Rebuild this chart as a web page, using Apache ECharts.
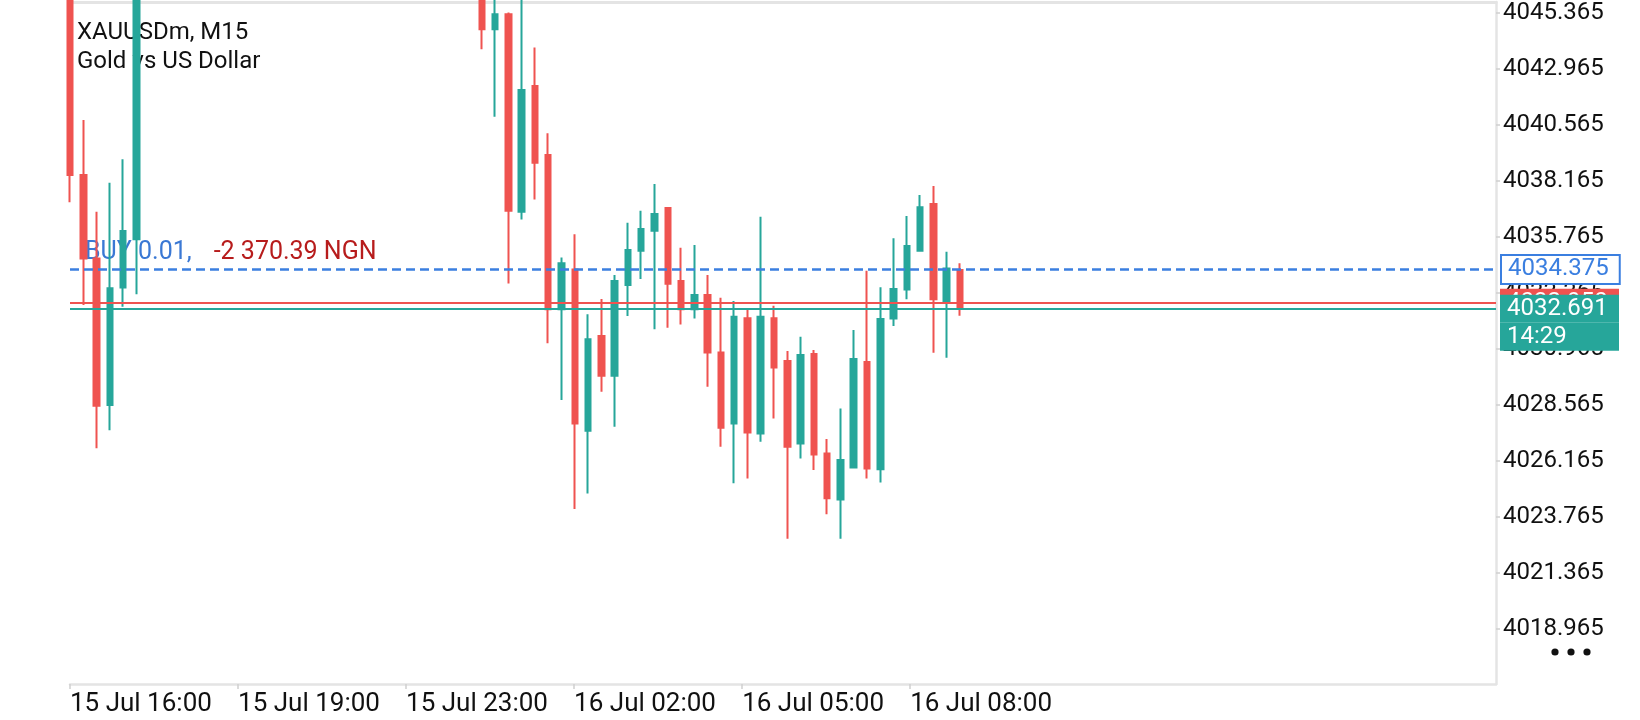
<!DOCTYPE html>
<html><head><meta charset="utf-8">
<script src="https://cdn.jsdelivr.net/npm/echarts@6/dist/echarts.min.js"></script>
<style>html,body{margin:0;padding:0;background:#fff}#chart{width:1640px;height:720px}</style>
</head><body><div id="chart"></div>
<script>
// ---- data ----
const barTimes = [
  '15 Jul 16:00','15 Jul 16:15','15 Jul 16:30','15 Jul 16:45','15 Jul 17:00','15 Jul 17:15','15 Jul 17:30','15 Jul 17:45',
  '15 Jul 18:00','15 Jul 18:15','15 Jul 18:30','15 Jul 18:45','15 Jul 19:00','15 Jul 19:15','15 Jul 19:30','15 Jul 19:45',
  '15 Jul 20:00','15 Jul 20:15','15 Jul 20:30','15 Jul 20:45','15 Jul 21:00','15 Jul 21:15','15 Jul 21:30','15 Jul 21:45',
  '15 Jul 23:00','15 Jul 23:15','15 Jul 23:30','15 Jul 23:45',
  '16 Jul 00:00','16 Jul 00:15','16 Jul 00:30','16 Jul 00:45','16 Jul 01:00','16 Jul 01:15','16 Jul 01:30','16 Jul 01:45',
  '16 Jul 02:00','16 Jul 02:15','16 Jul 02:30','16 Jul 02:45','16 Jul 03:00','16 Jul 03:15','16 Jul 03:30','16 Jul 03:45',
  '16 Jul 04:00','16 Jul 04:15','16 Jul 04:30','16 Jul 04:45','16 Jul 05:00','16 Jul 05:15','16 Jul 05:30','16 Jul 05:45',
  '16 Jul 06:00','16 Jul 06:15','16 Jul 06:30','16 Jul 06:45','16 Jul 07:00','16 Jul 07:15','16 Jul 07:30','16 Jul 07:45',
  '16 Jul 08:00','16 Jul 08:15','16 Jul 08:30','16 Jul 08:45','16 Jul 09:00','16 Jul 09:15','16 Jul 09:30','16 Jul 09:45'
];
const opens = [
  4047.20,4038.42,4034.85,4028.57,4033.60,4035.67,4047.90,4049.20,4048.50,4050.60,4052.30,4051.40,4053.80,4055.10,4054.00,4052.60,
  4053.90,4056.20,4055.00,4053.10,4051.70,4052.80,4050.90,4049.60,4050.40,4049.10,4048.20,4049.00,4047.80,4048.60,4047.40,4046.90,
  4044.67,4045.32,4036.85,4042.24,4039.28,4032.67,4034.38,4027.46,4031.52,4029.82,4033.71,4035.18,4036.04,4037.01,4033.88,4032.67,
  4033.28,4030.82,4027.78,4032.29,4027.35,4032.29,4030.45,4026.92,4030.75,4026.49,4024.52,4025.89,4030.41,4025.81,4032.28,4033.52,
  4035.18,4037.18,4032.99,4034.35
];
const closes = [
  4038.42,4034.85,4028.54,4033.57,4036.02,4047.90,4049.20,4048.50,4050.60,4052.30,4051.40,4053.80,4055.10,4054.00,4052.60,4053.90,
  4056.20,4055.00,4053.10,4051.70,4052.80,4050.90,4049.60,4050.40,4049.10,4048.20,4049.00,4047.80,4048.60,4047.40,4046.90,4044.67,
  4045.32,4036.89,4042.07,4038.95,4032.67,4034.64,4027.78,4031.39,4029.82,4033.88,4035.21,4036.11,4036.75,4033.76,4032.67,4033.28,
  4030.82,4027.59,4032.35,4027.39,4032.35,4030.18,4026.78,4030.71,4026.45,4024.57,4026.21,4030.54,4025.85,4032.25,4033.54,4035.38,
  4037.04,4033.10,4034.42,4032.69
];
const lows = [
  4037.26,4032.85,4026.71,4027.49,4032.78,4033.31,4047.10,4047.80,4048.10,4050.00,4050.80,4051.00,4053.20,4053.30,4051.90,4052.00,
  4053.50,4054.10,4052.40,4050.90,4051.20,4050.20,4048.80,4049.00,4048.30,4047.50,4047.60,4047.10,4047.00,4046.60,4046.30,4043.81,
  4040.92,4033.78,4036.52,4037.38,4031.21,4028.78,4024.11,4024.78,4029.14,4027.64,4032.38,4033.97,4031.81,4031.88,4032.02,4032.28,
  4029.35,4026.78,4025.21,4025.42,4026.99,4027.99,4022.83,4026.28,4025.78,4023.88,4022.83,4025.85,4025.42,4025.25,4031.95,4033.10,
  4035.15,4030.81,4030.59,4032.39
];
const highs = [
  4047.80,4040.78,4036.85,4038.09,4039.10,4048.60,4050.00,4050.40,4051.20,4053.00,4053.40,4054.50,4056.00,4055.90,4054.60,4054.80,
  4057.00,4056.90,4055.60,4053.80,4053.50,4053.20,4051.50,4051.10,4050.90,4049.80,4049.70,4049.50,4049.20,4049.00,4048.10,4047.20,
  4046.50,4045.39,4046.30,4043.89,4040.21,4034.89,4035.89,4032.46,4033.11,4034.14,4036.38,4036.89,4038.04,4037.05,4035.31,4035.42,
  4034.14,4033.16,4033.02,4032.73,4036.64,4032.82,4030.88,4031.49,4030.92,4027.11,4028.42,4031.78,4034.32,4033.61,4035.71,4036.67,
  4037.57,4037.95,4035.14,4034.64
];
const yTickValues = [4018.965,4021.365,4023.765,4026.165,4028.565,4030.965,4033.365,4035.765,4038.165,4040.565,4042.965,4045.365];
const xTickLabels = ['15 Jul 16:00','15 Jul 19:00','15 Jul 23:00','16 Jul 02:00','16 Jul 05:00','16 Jul 08:00'];
const titleLines = ['XAUUSDm, M15', 'Gold vs US Dollar'];
const buyPrice = 4034.375;
const askPrice = 4032.950;
const bidPrice = 4032.691;
const countdown = '14:29';
const orderText = 'BUY 0.01,';
const profitText = '-2 370.39 NGN';

// ---- styling / layout ----
const UP = '#26A69A', DOWN = '#EF5350', BLUE = '#3B7FE0', FRAME = '#E4E4E4', FONT = 'Roboto';
const labelStep = 12.65; // bars between time labels
const xTickPos = xTickLabels.map((_, k) => +(k * labelStep).toFixed(2));

const candleData = opens.map((o, i) => [i, o, closes[i], lows[i], highs[i]]);

const chart = echarts.init(document.getElementById('chart'), null, {renderer: 'canvas'});
const option = {
  animation: false,
  backgroundColor: '#fff',
  grid: {left: 70, right: 144, top: 2, bottom: 36, containLabel: false},
  xAxis: [{
    type: 'value', min: 0, max: 107.35, position: 'bottom',
    splitLine: {show: false},
    axisLine: {show: true, onZero: false, lineStyle: {color: FRAME, width: 2.5}},
    axisTick: {show: true, length: 5, lineStyle: {color: '#D0D0D0', width: 1.5}, customValues: xTickPos},
    axisLabel: {
      customValues: xTickPos, align: 'left', margin: 7,
      color: '#111', fontFamily: FONT, fontSize: 26,
      formatter: v => xTickLabels[Math.round(v / labelStep)] || ''
    }
  }, {
    type: 'value', min: 0, max: 107.35, position: 'top',
    splitLine: {show: false},
    axisLine: {show: true, onZero: false, lineStyle: {color: FRAME, width: 3}},
    axisTick: {show: false}, axisLabel: {show: false}
  }],
  yAxis: {
    type: 'value', position: 'right', min: 4016.61, max: 4045.84, scale: true,
    splitLine: {show: false},
    axisLine: {show: true, onZero: false, lineStyle: {color: FRAME, width: 2.5}},
    axisTick: {show: true, length: 4, lineStyle: {color: '#D0D0D0', width: 1.5}, customValues: yTickValues},
    axisLabel: {
      customValues: yTickValues, margin: 7,
      color: '#111', fontFamily: FONT, fontSize: 24,
      formatter: v => v.toFixed(3)
    }
  },
  series: [{
    type: 'candlestick',
    xAxisIndex: 0, yAxisIndex: 0,
    data: candleData,
    encode: {x: 0, y: [1, 2, 3, 4]},
    barWidth: 6,
    clip: true,
    itemStyle: {color: UP, color0: DOWN, borderColor: UP, borderColor0: DOWN, borderWidth: 2},
    markLine: {
      silent: true,
      symbol: ['none', 'none'],
      animation: false,
      data: [
        {
          yAxis: buyPrice,
          lineStyle: {color: BLUE, type: [9, 5], width: 2.5},
          label: {
            show: true, position: 'end', distance: 6,
            formatter: buyPrice.toFixed(3),
            color: BLUE, fontFamily: FONT, fontSize: 24, lineHeight: 25,
            backgroundColor: '#fff', borderColor: BLUE, borderWidth: 2,
            padding: [1, 10, 1, 6]
          }
        },
        {
          yAxis: askPrice,
          lineStyle: {color: DOWN, type: 'solid', width: 2},
          label: {
            show: true, position: 'end', distance: 4,
            formatter: askPrice.toFixed(3),
            color: '#fff', fontFamily: FONT, fontSize: 24, lineHeight: 28,
            backgroundColor: DOWN, width: 106, padding: [0, 6, 0, 7]
          }
        },
        {
          yAxis: bidPrice,
          lineStyle: {color: UP, type: 'solid', width: 2},
          label: {
            show: true, position: 'end', distance: 4,
            formatter: '{s| }\n{a|' + bidPrice.toFixed(3) + '}\n{a|' + countdown + '}',
            rich: {
              s: {lineHeight: 28, height: 28, fontSize: 10},
              a: {color: '#fff', fontFamily: FONT, fontSize: 24, lineHeight: 28, height: 28,
                  backgroundColor: UP, width: 106, padding: [0, 6, 0, 7]}
            }
          }
        }
      ]
    }
  }]
};
chart.setOption(option);

const yBuy = chart.convertToPixel({yAxisIndex: 0}, buyPrice);
chart.setOption({
  graphic: [
    {type: 'text', z: 0, x: 77, y: 33, style: {text: titleLines[0], fill: '#111', font: '24px ' + FONT, textVerticalAlign: 'middle'}},
    {type: 'text', z: 0, x: 77, y: 62, style: {text: titleLines[1], fill: '#111', font: '24px ' + FONT, textVerticalAlign: 'middle'}},
    {type: 'text', z: 0, x: 85, y: yBuy - 17, style: {
      text: '{b|' + orderText + '}{r|' + profitText + '}',
      textVerticalAlign: 'middle',
      rich: {
        b: {fill: '#3A78D4', font: '25px ' + FONT},
        r: {fill: '#B71C1C', font: '25px ' + FONT, padding: [0, 0, 0, 22]}
      }
    }},
    {type: 'circle', shape: {cx: 1555, cy: 652, r: 3.6}, style: {fill: '#111'}},
    {type: 'circle', shape: {cx: 1571, cy: 652, r: 3.6}, style: {fill: '#111'}},
    {type: 'circle', shape: {cx: 1587, cy: 652, r: 3.6}, style: {fill: '#111'}}
  ]
});
</script>
</body></html>
